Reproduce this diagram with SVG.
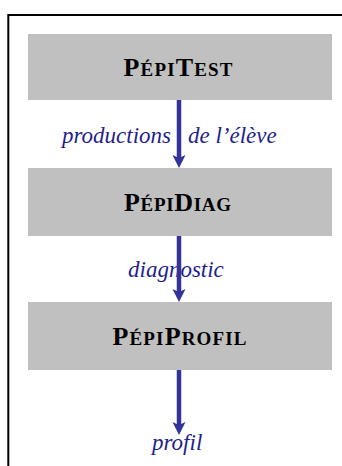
<svg xmlns="http://www.w3.org/2000/svg" width="342" height="466" viewBox="0 0 342 466">
<style>
.box{fill:#c0c0c0;}
.title{font-family:"Liberation Serif","Times New Roman",serif;font-weight:bold;font-size:26px;fill:#000;text-anchor:middle;}
.sc{font-size:19px;}
.lbl{font-family:"Liberation Serif","Times New Roman",serif;font-style:italic;font-size:23px;fill:#1f1f8c;}
.conn{stroke:#333399;stroke-width:4.5;fill:none;}
</style>
<defs>
<marker id="ah" markerUnits="userSpaceOnUse" markerWidth="14" markerHeight="14" refX="3" refY="6.5" orient="auto">
<path d="M0,0 L13,6.5 L0,13 L3,6.5 z" fill="#333399"/>
</marker>
</defs>
<rect x="8.3" y="15" width="400" height="500" fill="#fff" stroke="#000" stroke-width="2"/>
<g id="node-pepitest">
<rect class="box" x="28" y="34" width="304" height="66"/>
<text class="title" x="178" y="75.5" textLength="109" lengthAdjust="spacing">P<tspan class="sc">ÉPI</tspan>T<tspan class="sc">EST</tspan></text>
</g>
<g id="node-pepidiag">
<rect class="box" x="28" y="168" width="304" height="68"/>
<text class="title" x="177.5" y="211" textLength="107" lengthAdjust="spacing">P<tspan class="sc">ÉPI</tspan>D<tspan class="sc">IAG</tspan></text>
</g>
<g id="node-pepiprofil">
<rect class="box" x="28" y="302" width="304" height="68"/>
<text class="title" x="179.5" y="345" textLength="134" lengthAdjust="spacing">P<tspan class="sc">ÉPI</tspan>P<tspan class="sc">ROFIL</tspan></text>
</g>
<g id="labels">
<text class="lbl" y="143"><tspan x="62">productions</tspan><tspan x="188">de l’élève</tspan></text>
<text class="lbl" x="128" y="277">diagnostic</text>
<text class="lbl" x="152" y="450">profil</text>
</g>
<g id="connectors">
<line class="conn" x1="179" y1="100" x2="179" y2="158" marker-end="url(#ah)"/>
<line class="conn" x1="179" y1="236" x2="179" y2="292" marker-end="url(#ah)"/>
<line class="conn" x1="179" y1="370" x2="179" y2="425" marker-end="url(#ah)"/>
</g>
</svg>
